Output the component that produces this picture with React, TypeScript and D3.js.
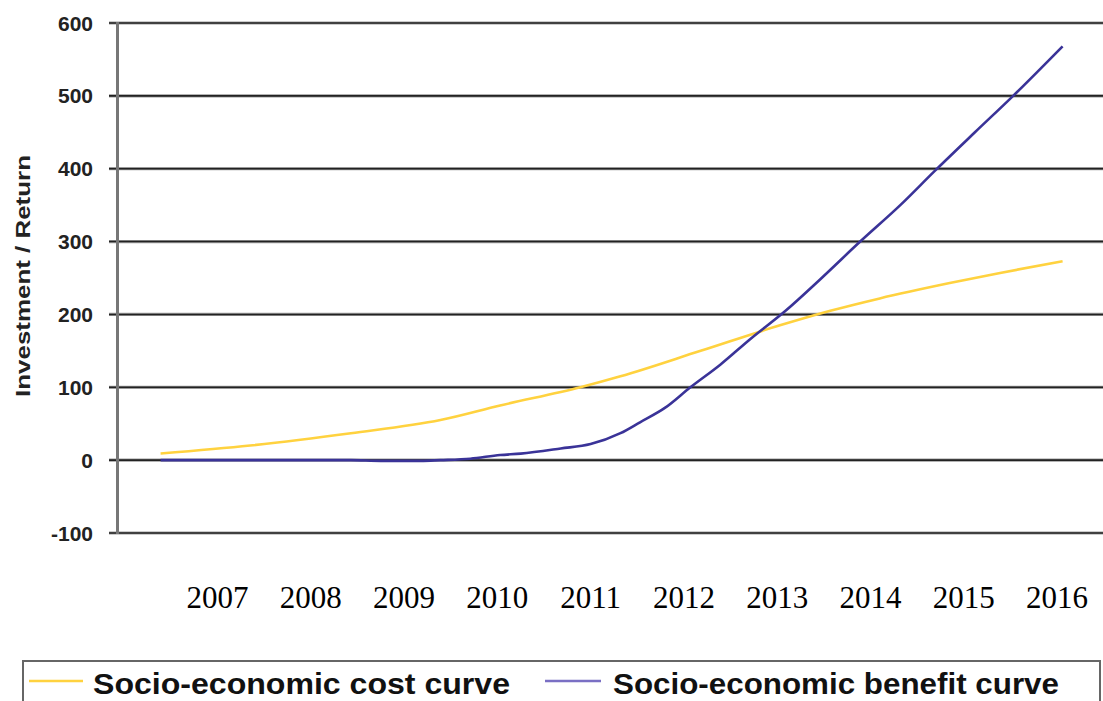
import React from "react";
import * as d3 from "d3";

const yTicks = [-100, 0, 100, 200, 300, 400, 500, 600];
const xYears = [2007, 2008, 2009, 2010, 2011, 2012, 2013, 2014, 2015, 2016];

const costYears = [2006.39, 2007.35, 2008.43, 2009.39, 2010.03, 2010.89, 2011.32, 2012.18, 2013.03, 2013.57, 2014.1, 2014.85, 2015.39, 2016.06];
const costValues = [9, 20, 37, 55, 75, 100, 115, 150, 185, 205, 222, 243, 257, 273];

const benefitYears = [2006.39, 2007.89, 2008.43, 2008.75, 2009.18, 2009.39, 2009.71, 2010.03, 2010.25, 2010.68, 2011.0, 2011.32, 2011.53, 2011.8, 2012.07, 2012.39, 2012.71, 2013.09, 2013.46, 2013.89, 2014.32, 2014.69, 2015.12, 2015.53, 2016.06];
const benefitValues = [0, 0, 0, -1, -1, 0, 2, 7, 9, 16, 22, 37, 52, 72, 100, 131, 166, 205, 248, 300, 350, 397, 450, 500, 568];

const seriesNames = ["Socio-economic cost curve", "Socio-economic benefit curve"];
const yTitle = "Investment / Return";

export default function App() {
  const W = 1103, H = 701;
  const x = d3.scaleLinear().domain([2007, 2016]).range([217.5, 1057]);
  const y = d3.scaleLinear().domain([-100, 600]).range([533, 23]);
  const line = d3.line<[number, number]>().x(d => x(d[0])).y(d => y(d[1])).curve(d3.curveMonotoneX);
  const costPts = costYears.map((t, i) => [t, costValues[i]] as [number, number]);
  const benPts = benefitYears.map((t, i) => [t, benefitValues[i]] as [number, number]);
  const sans = "'Liberation Sans', Arial, sans-serif";
  return (
    <svg width={W} height={H} style={{ position: "absolute", left: 0, top: 0, background: "#fff" }}>
      {yTicks.map(t => (
        <g key={t}>
          <line x1={109} x2={W} y1={y(t)} y2={y(t)} stroke="#9a9a9a" strokeWidth={3.2} />
          <line x1={109} x2={W} y1={y(t)} y2={y(t)} stroke="#222" strokeWidth={1.6} />
          <text x={93} y={y(t)} dy="0.36em" textAnchor="end" fontFamily={sans} fontWeight="bold" fontSize={21} fill="#222">{t}</text>
        </g>
      ))}
      <line x1={117.5} x2={117.5} y1={y(600) - 1} y2={y(-100) + 1} stroke="#777" strokeWidth={3} />
      <text transform={`translate(30,${(y(600) + y(-100)) / 2 - 2}) rotate(-90)`} textAnchor="middle" fontFamily={sans} fontWeight="bold" fontSize={21} textLength={242} lengthAdjust="spacingAndGlyphs" fill="#222">{yTitle}</text>
      {xYears.map(t => (
        <text key={t} x={x(t)} y={608} textAnchor="middle" fontFamily="'Liberation Serif', 'Times New Roman', serif" fontSize={31} fill="#000">{t}</text>
      ))}
      <path d={line(costPts) || ""} fill="none" stroke="#FFD23F" strokeWidth={2.6} />
      <path d={line(benPts) || ""} fill="none" stroke="#3A3398" strokeWidth={2.6} />
      <rect x={23} y={661} width={1077} height={60} fill="none" stroke="#666" strokeWidth={2} />
      <line x1={29} x2={83} y1={681} y2={681} stroke="#FFD23F" strokeWidth={2.6} />
      <text x={93} y={694} fontFamily={sans} fontWeight="bold" fontSize={30} textLength={417} lengthAdjust="spacingAndGlyphs" fill="#111">{seriesNames[0]}</text>
      <line x1={545} x2={601} y1={681} y2={681} stroke="#7A6FC4" strokeWidth={2.6} />
      <text x={613} y={694} fontFamily={sans} fontWeight="bold" fontSize={30} textLength={446} lengthAdjust="spacingAndGlyphs" fill="#111">{seriesNames[1]}</text>
    </svg>
  );
}
